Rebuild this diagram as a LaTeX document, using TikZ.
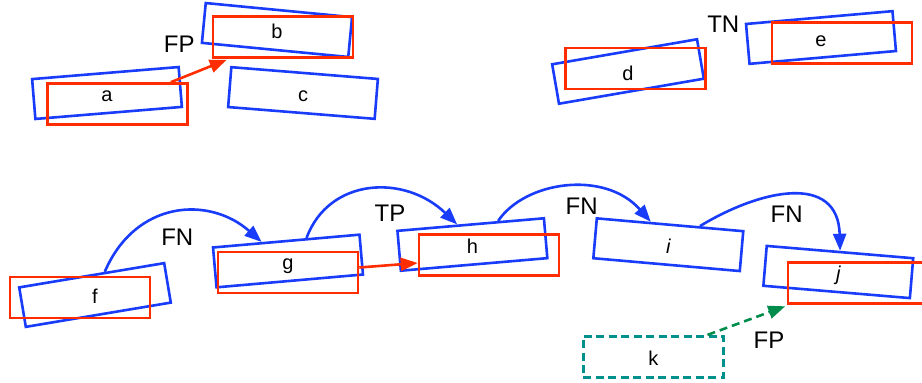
\documentclass[tikz,border=0pt]{standalone}
\usepackage{fontspec}
\setmainfont{Liberation Sans}
\usetikzlibrary{arrows.meta,calc}
\definecolor{gtblue}{RGB}{25,60,250}
\definecolor{predred}{RGB}{255,45,0}
\definecolor{fpgreen}{RGB}{0,140,75}
\definecolor{kteal}{RGB}{0,145,140}
\begin{document}
\begin{tikzpicture}[x=1pt,y=-1pt,
  gtbox/.style={draw=gtblue, line width=2.6pt, minimum width=147pt, minimum height=40pt, inner sep=0pt},
  predbox/.style={draw=predred, line width=2.6pt, minimum width=140pt, minimum height=41pt, inner sep=0pt},
  dashbox/.style={draw=kteal, line width=2.6pt, dash pattern=on 8pt off 4.5pt, minimum width=140pt, minimum height=41pt, inner sep=0pt},
  letter/.style={anchor=base, inner sep=0pt, yshift=-8.5pt, font=\fontsize{20}{22}\selectfont},
  tag/.style={inner sep=0pt, font=\fontsize{24}{26}\selectfont},
  tip/.style={-{Triangle[length=17pt,width=13pt]}},
  arcarrow/.style={draw=gtblue, line width=2.6pt, tip},
  redarrow/.style={draw=predred, line width=2.6pt, tip},
  greenarrow/.style={draw=fpgreen, line width=2.6pt, dash pattern=on 8pt off 5pt, tip},
]
\useasboundingbox (0,0) rectangle (922,383);

% ground-truth boxes (rotated, blue)
\node[gtbox, rotate=4.7]  (ba) at (107,93) {};
\node[gtbox, rotate=-5.5] (bb) at (277,30) {};
\node[gtbox, rotate=-4.6] (bc) at (303,93) {};
\node[gtbox, rotate=9.8]  (bd) at (628,71.5) {};
\node[gtbox, rotate=5]    (be) at (821,37.5) {};
\node[gtbox, rotate=9.5]  (bf) at (95,295) {};
\node[gtbox, rotate=5]    (bg) at (288,261) {};
\node[gtbox, rotate=4.9]  (bh) at (472.4,244.5) {};
\node[gtbox, rotate=-5]   (bi) at (668.3,244.7) {};
\node[gtbox, rotate=-4.8] (bj) at (838.3,272) {};

% predicted boxes (axis aligned, red)
\node[predbox] (ra) at (117.5,104) {};
\node[predbox] (rb) at (283,37) {};
\node[predbox] (rd) at (635.5,68.5) {};
\node[predbox] (re) at (842,43) {};
\node[predbox] (rf) at (80,297.5) {};
\node[predbox] (rg) at (288,272.5) {};
\node[predbox] (rh) at (489,255) {};
\node[predbox] (rj) at (858,283) {};

% dashed box k
\node[dashbox] (bk) at (653.3,356.7) {};

% box letters
\node[letter] (la) at (ba) {a};
\node[letter] (lb) at (bb) {b};
\node[letter] (lc) at (bc) {c};
\node[letter] (ld) at (bd) {d};
\node[letter] (le) at (be) {e};
\node[letter] (lf) at (bf) {f};
\node[letter] (lg) at (bg) {g};
\node[letter] (lh) at (bh) {h};
\node[letter] (li) at (bi) {\itshape i};
\node[letter] (lj) at (bj) {\itshape j};
\node[letter] (lk) at (bk) {k};

% outcome tags
\node[tag] (t1) at (179.3,44) {FP};
\node[tag] (t2) at (723.3,24) {TN};
\node[tag] (t3) at (177.3,237.3) {FN};
\node[tag] (t4) at (390,213.3) {TP};
\node[tag] (t5) at (581.7,206.7) {FN};
\node[tag] (t6) at (786.7,214.3) {FN};
\node[tag] (t7) at (769,340.7) {FP};

% straight connectors
\draw[redarrow] ([xshift=-18pt]ra.north east) -- ([xshift=15pt,yshift=-1pt]rb.south west);
\draw[redarrow] ([yshift=5pt]rg.east) -- ([yshift=-8pt]rh.west);
\draw[greenarrow] ($(bk.north west)!0.88!(bk.north east)$) -- ([xshift=-1.5pt,yshift=-1.5pt]rj.south west);

% curved connectors between ground-truth boxes
\draw[arcarrow] ($(bf.north west)!0.59!(bf.north east)$) .. controls +(31,-72) and +(-52,-46) .. ($(bg.north west)!0.335!(bg.north east)$);
\draw[arcarrow] ($(bg.north west)!0.637!(bg.north east)$) .. controls +(22,-60) and +(-53,-51) .. ($(bh.north west)!0.41!(bh.north east)$);
\draw[arcarrow] ($(bh.north west)!0.685!(bh.north east)$) .. controls +(27,-40) and +(-46,-52) .. ($(bi.north west)!0.37!(bi.north east)$);
\draw[arcarrow] ($(bi.north west)!0.70!(bi.north east)$) .. controls +(61,-37) and +(-2,-78) .. (bj.north);
\end{tikzpicture}
\end{document}
